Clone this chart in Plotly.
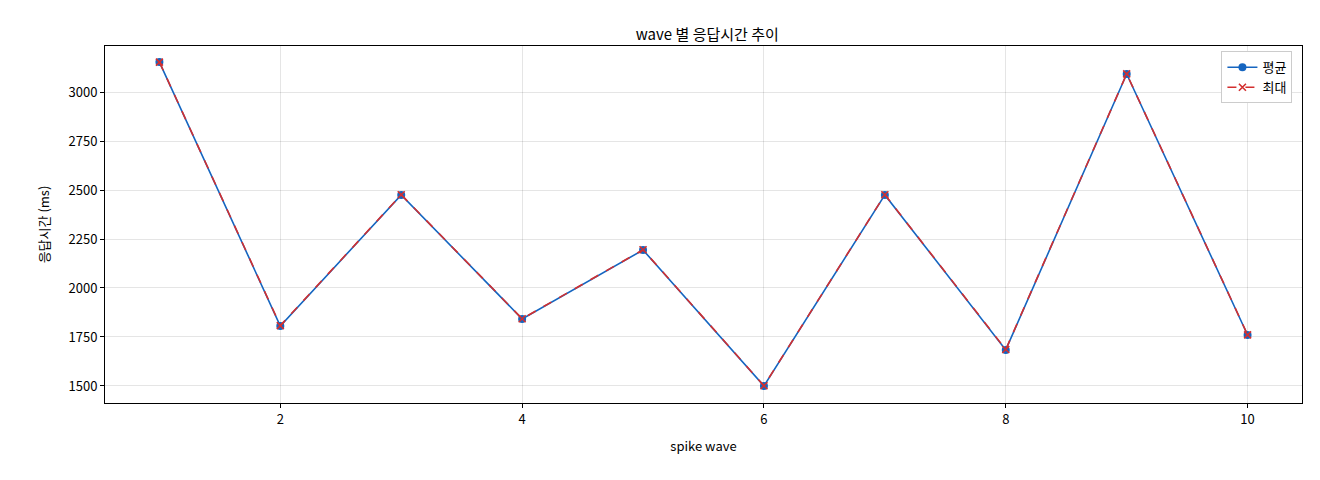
import plotly.graph_objects as go

waves = [1, 2, 3, 4, 5, 6, 7, 8, 9, 10]
avg_ms = [3153, 1806, 2475, 1842, 2194, 1500, 2475, 1684, 3092, 1760]
max_ms = [3153, 1808, 2476, 1843, 2195, 1501, 2476, 1686, 3093, 1761]
y_ticks = [1500, 1750, 2000, 2250, 2500, 2750, 3000]

FONT = "Noto Sans CJK KR, Noto Sans, sans-serif"

fig = go.Figure()
fig.add_trace(go.Scatter(
    x=waves, y=avg_ms, name="평균", mode="lines+markers",
    line=dict(color="#1565c0", width=1.6),
    marker=dict(symbol="circle", size=8, color="#1565c0"),
))
fig.add_trace(go.Scatter(
    x=waves, y=max_ms, name="최대", mode="lines+markers",
    line=dict(color="#d32f2f", width=1.6, dash="dash"),
    marker=dict(symbol="x-thin", size=7, line=dict(color="#d32f2f", width=1.6)),
))

axis_style = dict(
    showline=True, linecolor="black", mirror=True, linewidth=1,
    showgrid=True, gridcolor="rgba(0,0,0,0.1)", zeroline=False,
    ticks="outside", ticklen=4, tickcolor="black",
    tickfont=dict(size=13, color="black"),
)
fig.update_xaxes(range=[0.55, 10.45], tickvals=[2, 4, 6, 8, 10],
                 title=dict(text="spike wave", font=dict(size=13)), **axis_style)
fig.update_yaxes(range=[1413, 3235], tickvals=y_ticks,
                 title=dict(text="응답시간 (ms)", font=dict(size=13)), **axis_style)

fig.update_layout(
    width=1312, height=472,
    margin=dict(l=97, r=18, t=38, b=77),
    paper_bgcolor="white", plot_bgcolor="white",
    font=dict(family=FONT, color="black"),
    title=dict(text="wave 별 응답시간 추이", x=0.533, xanchor="center",
               y=0.955, font=dict(size=15)),
    legend=dict(x=0.992, y=0.985, xanchor="right", yanchor="top",
                bordercolor="#cccccc", borderwidth=1, bgcolor="white",
                font=dict(size=13)),
)

fig.write_html("out.html")
